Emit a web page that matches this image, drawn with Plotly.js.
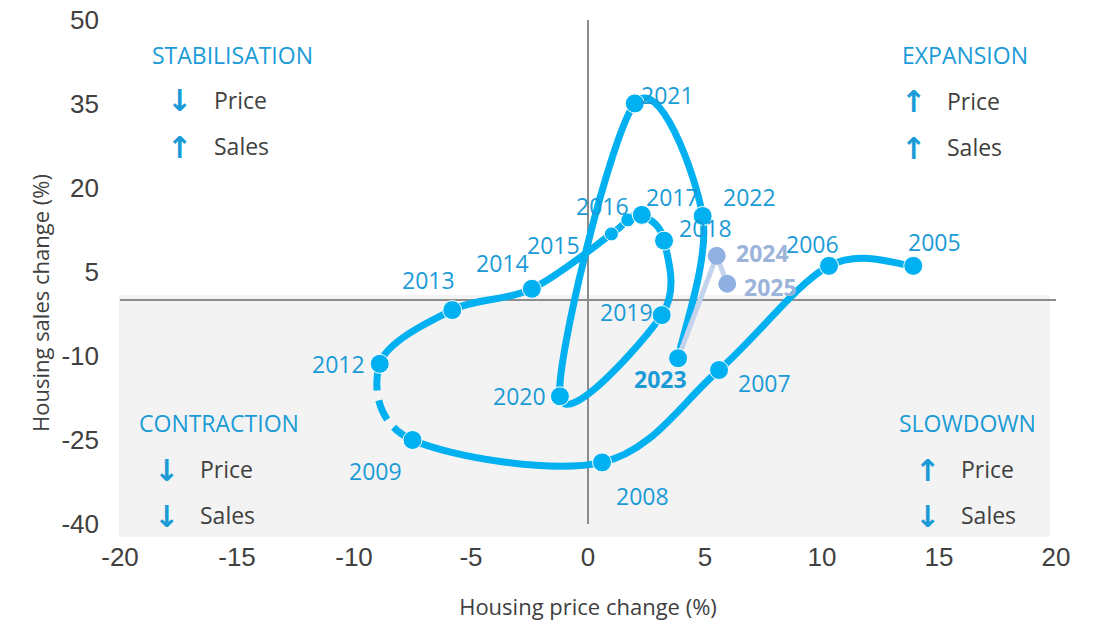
<!DOCTYPE html>
<html>
<head>
<meta charset="utf-8">
<script src="https://cdn.plot.ly/plotly-3.0.1.min.js"></script>
<style>
  html, body { margin: 0; padding: 0; background: #ffffff; }
  #chart { width: 1094px; height: 628px; }
</style>
</head>
<body>
<div id="chart"></div>
<script>
// ---- data ----
const years  = ['2005','2006','2007','2008','2009','2012','2013','2014','2015','2016','2017','2018','2019','2020','2021','2022','2023','2024','2025'];
const price  = [13.9, 10.3, 5.6, 0.6, -7.5, -8.9, -5.8, -2.4, 1.0, 1.7, 2.3, 3.25, 3.15, -1.2, 2.0, 4.9, 3.85, 5.5, 5.95];
const sales  = [6.1, 6.1, -12.5, -29.0, -25.0, -11.4, -1.8, 2.0, 11.8, 14.3, 15.2, 10.6, -2.7, -17.2, 35.1, 15.0, -10.4, 7.9, 2.9];
// label offsets in pixels (dx, dy) relative to the point
const labelDx = [21, -17, 45, 40, -37, -41, -24, -29, -58, -25, 31, 41, -35, -40, 33, 47, -18, 46, 43];
const labelDy = [-24, -22, 13, 34, 31, 0, -30, -26, 11, -14, -18, -13, -3, 0, -8, -19, 21, -3, 3];

const xTicks = [-20, -15, -10, -5, 0, 5, 10, 15, 20];
const yTicks = [-40, -25, -10, 5, 20, 35, 50];

const quadrants = [
  {title: 'STABILISATION', arrows: ['↓', '↑']},
  {title: 'EXPANSION',     arrows: ['↑', '↑']},
  {title: 'CONTRACTION',   arrows: ['↓', '↓']},
  {title: 'SLOWDOWN',      arrows: ['↑', '↓']}
];
const rowNames = ['Price', 'Sales'];
const gapFrom = '2009';          // segment 2009 -> 2012 (missing years) drawn dashed
const lastMain = '2023';         // main series ends here; 2024-2025 shown lighter

// ---- styling ----
const BLUE = '#00b0f0';
const LABEL_BLUE = '#1a9bd7';
const LIGHT_LINE = '#c3d3ec';
const LIGHT_MARK = '#8fb0e0';
const LIGHT_LABEL = '#9db4da';
const GREY_TXT = '#404040';

const M = {l: 120, r: 38, t: 20, b: 104};
const W = 1094 - M.l - M.r, H = 628 - M.t - M.b;
const pxX = px => (px - M.l) / W;
const pxY = py => 1 - (py - M.t) / H;

const sel = idx => ({x: idx.map(i => price[i]), y: idx.map(i => sales[i])});
const range = (a, b) => { const r = []; for (let i = a; i <= b; i++) r.push(i); return r; };

const nMain = years.indexOf(lastMain);
const gapIdx = years.indexOf(gapFrom);

// smooth line (Catmull-Rom style bezier, as spreadsheet "smoothed line") in data coordinates
const P = i => [price[i], sales[i]];
const f = v => v.toFixed(4);
function segPath(i, reverse) {
  const p0 = P(i), p1 = P(i + 1);
  const pm = i > 0 ? P(i - 1) : p0;
  const p2 = i + 2 <= nMain ? P(i + 2) : p1;
  const c1 = [p0[0] + (p1[0] - pm[0]) / 6, p0[1] + (p1[1] - pm[1]) / 6];
  const c2 = [p1[0] - (p2[0] - p0[0]) / 6, p1[1] - (p2[1] - p0[1]) / 6];
  if (reverse) return 'M' + f(p1[0]) + ',' + f(p1[1]) + ' C' + f(c2[0]) + ',' + f(c2[1]) + ' ' + f(c1[0]) + ',' + f(c1[1]) + ' ' + f(p0[0]) + ',' + f(p0[1]);
  return 'C' + f(c1[0]) + ',' + f(c1[1]) + ' ' + f(c2[0]) + ',' + f(c2[1]) + ' ' + f(p1[0]) + ',' + f(p1[1]);
}
let solidPath = 'M' + f(price[0]) + ',' + f(sales[0]);
for (let i = 0; i < nMain; i++) {
  if (i === gapIdx) { solidPath += ' M' + f(price[i + 1]) + ',' + f(sales[i + 1]); continue; }
  solidPath += ' ' + segPath(i, false);
}
const dashedPath = segPath(gapIdx, true);

const traces = [];
// light 2023 -> 2025
const segL = sel(range(nMain, years.length - 1));
traces.push({x: segL.x, y: segL.y, mode: 'lines', type: 'scatter', hoverinfo: 'skip',
  line: {color: LIGHT_LINE, width: 5}});
// markers
const main = sel(range(0, nMain));
traces.push({x: main.x, y: main.y, mode: 'markers', type: 'scatter', text: years.slice(0, nMain + 1),
  marker: {color: BLUE, opacity: 1, size: years.slice(0, nMain + 1).map(y => (y === '2015' || y === '2016') ? 14 : 19)}});
const mkL = sel(range(nMain + 1, years.length - 1));
traces.push({x: mkL.x, y: mkL.y, mode: 'markers', type: 'scatter', text: years.slice(nMain + 1),
  marker: {color: LIGHT_MARK, opacity: 1, size: 18}});

const annotations = [];
years.forEach((yr, i) => {
  const light = i > nMain;
  const bold = (yr === lastMain || light);
  annotations.push({
    x: price[i], y: sales[i], xref: 'x', yref: 'y', showarrow: false,
    text: bold ? '<b>' + yr + '</b>' : yr,
    xshift: labelDx[i], yshift: -labelDy[i],
    font: {family: 'Open Sans, sans-serif', size: 23, color: light ? LIGHT_LABEL : LABEL_BLUE}
  });
});

// quadrant texts: [titleX, titleY, arrowX, textX, row1Y, row2Y]
const qPos = [
  [150, 55, 179, 212, 100, 146],
  [900, 55, 913, 945, 101, 147],
  [137, 423, 166, 198, 469, 515],
  [897, 423, 927, 959, 469, 515]
];
quadrants.forEach((q, k) => {
  const p = qPos[k];
  annotations.push({xref: 'paper', yref: 'paper', x: pxX(p[0]), y: pxY(p[1]), xanchor: 'left', yanchor: 'middle',
    showarrow: false, text: q.title, font: {family: 'Open Sans, sans-serif', size: 23, color: LABEL_BLUE}});
  q.arrows.forEach((a, r) => {
    const yy = r === 0 ? p[4] : p[5];
    annotations.push({xref: 'paper', yref: 'paper', x: pxX(p[2]), y: pxY(yy + 1), xanchor: 'center', yanchor: 'middle',
      showarrow: false, text: '<b>' + a + '</b>', font: {family: 'DejaVu Sans, sans-serif', size: 30, color: LABEL_BLUE}});
    annotations.push({xref: 'paper', yref: 'paper', x: pxX(p[3]), y: pxY(yy), xanchor: 'left', yanchor: 'middle',
      showarrow: false, text: rowNames[r], font: {family: 'Open Sans, sans-serif', size: 23, color: GREY_TXT}});
  });
});

// y axis title
annotations.push({xref: 'paper', yref: 'paper', x: pxX(40), y: pxY(303), xanchor: 'center', yanchor: 'middle',
  showarrow: false, textangle: -90, text: 'Housing sales change (%)',
  font: {family: 'Open Sans, sans-serif', size: 22, color: GREY_TXT}});

const shapes = [
  {type: 'rect', xref: 'paper', yref: 'paper', x0: pxX(119), x1: pxX(1050), y0: pxY(537), y1: pxY(295),
    fillcolor: '#f3f3f3', line: {width: 0}, layer: 'below'},
  {type: 'line', xref: 'x', yref: 'y', x0: -20, x1: 20, y0: 0, y1: 0,
    line: {color: '#8c8c8c', width: 2}, layer: 'below'},
  {type: 'line', xref: 'x', yref: 'y', x0: 0, x1: 0, y0: -40, y1: 50,
    line: {color: '#8c8c8c', width: 2}, layer: 'below'},
  {type: 'path', xref: 'x', yref: 'y', path: solidPath, line: {color: BLUE, width: 7}, layer: 'below'},
  {type: 'path', xref: 'x', yref: 'y', path: dashedPath, line: {color: BLUE, width: 7, dash: '27px,10px,21px,10px'}, layer: 'below'}
];

const layout = {
  width: 1094, height: 628,
  margin: M,
  paper_bgcolor: '#ffffff', plot_bgcolor: 'rgba(0,0,0,0)',
  showlegend: false,
  hovermode: false,
  xaxis: {range: [-20, 20], tickvals: xTicks, ticktext: xTicks.map(String), showgrid: false, zeroline: false,
    showline: false, ticks: '', ticklabelstandoff: 15,
    tickfont: {family: 'Liberation Sans, Arial, sans-serif', size: 26, color: GREY_TXT},
    title: {text: 'Housing price change (%)', standoff: 28,
      font: {family: 'Open Sans, sans-serif', size: 22, color: GREY_TXT}}},
  yaxis: {range: [-40, 50], tickvals: yTicks, ticktext: yTicks.map(String), showgrid: false, zeroline: false,
    showline: false, ticks: '', ticklabelstandoff: 20,
    tickfont: {family: 'Liberation Sans, Arial, sans-serif', size: 26, color: GREY_TXT}},
  shapes: shapes,
  annotations: annotations
};

Plotly.newPlot('chart', traces, layout, {displayModeBar: false, staticPlot: true});
</script>
</body>
</html>
